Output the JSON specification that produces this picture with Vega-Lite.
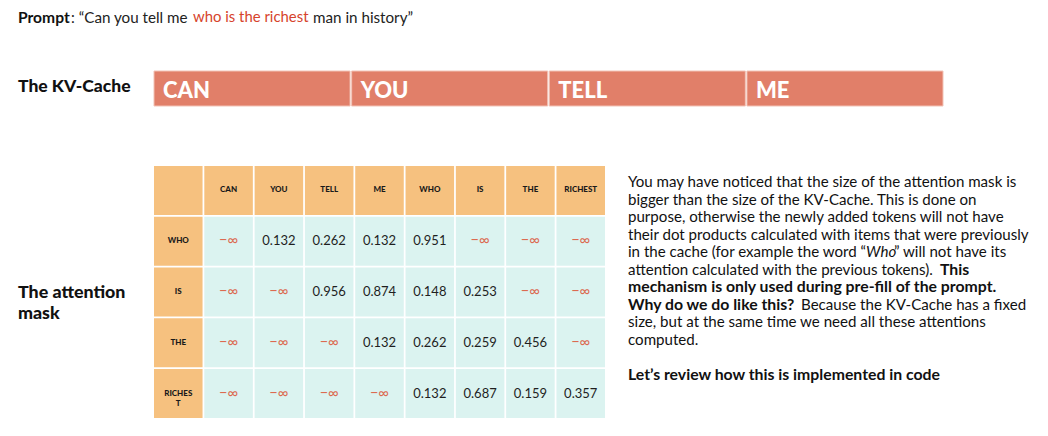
{
  "$schema": "https://vega.github.io/schema/vega-lite/v6.json",
  "width": 1048,
  "height": 436,
  "autosize": {"type": "fit", "contains": "padding"},
  "padding": 0,
  "background": "white",
  "config": {"view": {"stroke": null}, "font": "Lato"},
  "resolve": {"scale": {"x": "independent", "y": "independent", "color": "independent"}},
  "layer": [
    {
      "data": {"values": [{"token": "CAN"}, {"token": "YOU"}, {"token": "TELL"}, {"token": "ME"}]},
      "mark": {"type": "rect", "color": "#E17F69", "stroke": "#F2C3B6", "strokeWidth": 1},
      "encoding": {
        "x": {"field": "token", "type": "nominal", "sort": null, "axis": null,
              "scale": {"type": "band", "range": [154, 943], "paddingInner": 0.008, "paddingOuter": 0}},
        "y": {"datum": "kv", "type": "nominal", "axis": null,
              "scale": {"type": "band", "domain": ["kv"], "range": [71, 106], "paddingInner": 0, "paddingOuter": 0}}
      }
    },
    {
      "data": {"values": [{"token": "CAN"}, {"token": "YOU"}, {"token": "TELL"}, {"token": "ME"}]},
      "mark": {"type": "text", "align": "left", "baseline": "middle", "dx": 9, "dy": 2, "color": "white",
               "fontSize": 22, "fontWeight": 900, "font": "Lato"},
      "encoding": {
        "x": {"field": "token", "type": "nominal", "sort": null, "axis": null, "bandPosition": 0,
              "scale": {"type": "band", "range": [154, 943], "paddingInner": 0.008, "paddingOuter": 0}},
        "y": {"datum": "kv", "type": "nominal", "axis": null,
              "scale": {"type": "band", "domain": ["kv"], "range": [71, 106], "paddingInner": 0, "paddingOuter": 0}},
        "text": {"field": "token"}
      }
    },
    {
      "data": {"values": [{"text": "The KV-Cache"}]},
      "mark": {"type": "text", "align": "left", "baseline": "middle", "fontSize": 17.5, "fontWeight": 900, "font": "Lato", "color": "#111"},
      "encoding": {
        "x": {"datum": "left", "type": "nominal", "axis": null, "scale": {"type": "point", "domain": ["left", "right"], "range": [18, 628], "padding": 0}},
        "y": {"datum": "kv", "type": "nominal", "axis": null,
              "scale": {"type": "band", "domain": ["kv"], "range": [69, 104], "paddingInner": 0, "paddingOuter": 0}},
        "text": {"field": "text"}
      }
    },
    {
      "data": {"name": "mask"},
      "mark": {"type": "rect"},
      "encoding": {
        "x": {"field": "col", "type": "nominal", "sort": null, "axis": null,
              "scale": {"type": "band", "domain": ["hdr", "CAN", "YOU", "TELL", "ME", "WHO", "IS", "THE", "RICHEST"], "range": [154, 605], "paddingInner": 0.035, "paddingOuter": 0}},
        "y": {"field": "row", "type": "nominal", "sort": null, "axis": null,
              "scale": {"type": "band", "domain": ["hdr", "WHO", "IS", "THE", "RICHEST"], "range": [166, 418], "paddingInner": 0.035, "paddingOuter": 0}},
        "color": {"field": "kind", "type": "nominal", "legend": null,
                  "scale": {"domain": ["head", "body"], "range": ["#F6C17F", "#DBF3F0"]}}
      }
    },
    {
      "data": {"name": "mask"},
      "transform": [{"filter": "datum.kind === 'head'"}],
      "mark": {"type": "text", "align": "center", "baseline": "middle", "fontSize": 8, "fontWeight": 900,
               "font": "Lato", "color": "#1a1a1a", "lineBreak": "\n", "lineHeight": 10},
      "encoding": {
        "x": {"field": "col", "type": "nominal", "sort": null, "axis": null,
              "scale": {"type": "band", "domain": ["hdr", "CAN", "YOU", "TELL", "ME", "WHO", "IS", "THE", "RICHEST"], "range": [154, 605], "paddingInner": 0.035, "paddingOuter": 0}},
        "y": {"field": "row", "type": "nominal", "sort": null, "axis": null,
              "scale": {"type": "band", "domain": ["hdr", "WHO", "IS", "THE", "RICHEST"], "range": [166, 418], "paddingInner": 0.035, "paddingOuter": 0}},
        "text": {"field": "label"}
      }
    },
    {
      "data": {"name": "mask"},
      "transform": [{"filter": "datum.kind === 'body' && datum.value != null"}],
      "mark": {"type": "text", "align": "center", "baseline": "middle", "fontSize": 13, "font": "Lato", "color": "#1f1f1f"},
      "encoding": {
        "x": {"field": "col", "type": "nominal", "sort": null, "axis": null,
              "scale": {"type": "band", "domain": ["hdr", "CAN", "YOU", "TELL", "ME", "WHO", "IS", "THE", "RICHEST"], "range": [154, 605], "paddingInner": 0.035, "paddingOuter": 0}},
        "y": {"field": "row", "type": "nominal", "sort": null, "axis": null,
              "scale": {"type": "band", "domain": ["hdr", "WHO", "IS", "THE", "RICHEST"], "range": [166, 418], "paddingInner": 0.035, "paddingOuter": 0}},
        "text": {"field": "value", "type": "quantitative", "format": ".3f"}
      }
    },
    {
      "data": {"name": "mask"},
      "transform": [{"filter": "datum.kind === 'body' && datum.value == null"}],
      "mark": {"type": "text", "align": "center", "baseline": "middle", "fontSize": 14.5, "font": "Lato", "color": "#DC6A50"},
      "encoding": {
        "x": {"field": "col", "type": "nominal", "sort": null, "axis": null,
              "scale": {"type": "band", "domain": ["hdr", "CAN", "YOU", "TELL", "ME", "WHO", "IS", "THE", "RICHEST"], "range": [154, 605], "paddingInner": 0.035, "paddingOuter": 0}},
        "y": {"field": "row", "type": "nominal", "sort": null, "axis": null,
              "scale": {"type": "band", "domain": ["hdr", "WHO", "IS", "THE", "RICHEST"], "range": [166, 418], "paddingInner": 0.035, "paddingOuter": 0}},
        "text": {"value": "−∞"}
      }
    },
    {
      "data": {"values": [
        {"line": 1, "text": "The attention"},
        {"line": 2, "text": "mask"}
      ]},
      "mark": {"type": "text", "align": "left", "baseline": "middle", "fontSize": 17.8, "fontWeight": 900, "font": "Lato", "color": "#111"},
      "encoding": {
        "x": {"datum": "left", "type": "nominal", "axis": null, "scale": {"type": "point", "domain": ["left", "right"], "range": [18, 628], "padding": 0}},
        "y": {"field": "line", "type": "quantitative", "axis": null, "scale": {"domain": [1, 2], "range": [293, 314]}},
        "text": {"field": "text"}
      }
    },
    {
      "data": {"values": [{"part": "Prompt", "text": "Prompt"}]},
      "mark": {"type": "text", "align": "left", "baseline": "middle", "fontSize": 15.6, "fontWeight": "bold", "font": "Lato", "color": "#111"},
      "encoding": {
        "x": {"datum": "left", "type": "nominal", "axis": null, "scale": {"type": "point", "domain": ["left", "right"], "range": [18, 628], "padding": 0}},
        "y": {"datum": "prompt", "type": "nominal", "axis": null, "scale": {"type": "point", "domain": ["prompt"], "range": [18, 18]}},
        "text": {"field": "text"}
      }
    },
    {
      "data": {"values": [
        {"part": "a", "text": ": “Can you tell me"},
        {"part": "c", "text": "man in history”"}
      ]},
      "mark": {"type": "text", "align": "left", "baseline": "middle", "fontSize": 15.2, "font": "Lato", "color": "#222"},
      "encoding": {
        "x": {"field": "part", "type": "nominal", "axis": null, "scale": {"type": "point", "domain": ["a", "c"], "range": [71, 313], "padding": 0}},
        "y": {"datum": "prompt", "type": "nominal", "axis": null, "scale": {"type": "point", "domain": ["prompt"], "range": [18, 18]}},
        "text": {"field": "text"}
      }
    },
    {
      "data": {"values": [{"part": "b", "text": "who is the richest"}]},
      "mark": {"type": "text", "align": "left", "baseline": "middle", "fontSize": 14.9, "font": "Lato", "color": "#D6432C"},
      "encoding": {
        "x": {"field": "part", "type": "nominal", "axis": null, "scale": {"type": "point", "domain": ["b"], "range": [193, 193]}},
        "y": {"datum": "prompt", "type": "nominal", "axis": null, "scale": {"type": "point", "domain": ["prompt"], "range": [18, 18]}},
        "text": {"field": "text"}
      }
    },
    {
      "data": {"values": [
        {"line": 1, "text": "You may have noticed that the size of the attention mask is"},
        {"line": 2, "text": "bigger than the size of the KV-Cache. This is done on"},
        {"line": 3, "text": "purpose, otherwise the newly added tokens will not have"},
        {"line": 4, "text": "their dot products calculated with items that were previously"},
        {"line": 5, "text": "in the cache (for example the word “"},
        {"line": 6, "text": "attention calculated with the previous tokens)."},
        {"line": 9, "text": "size, but at the same time we need all these attentions"},
        {"line": 10, "text": "computed."}
      ]},
      "mark": {"type": "text", "align": "left", "baseline": "middle", "fontSize": 15.1, "font": "Lato", "color": "#111"},
      "encoding": {
        "x": {"datum": "right", "type": "nominal", "axis": null, "scale": {"type": "point", "domain": ["left", "right"], "range": [18, 628], "padding": 0}},
        "y": {"field": "line", "type": "quantitative", "axis": null, "scale": {"domain": [1, 10], "range": [182, 340]}},
        "text": {"field": "text"}
      }
    },
    {
      "data": {"values": [
        {"line": 7, "text": "mechanism is only used during pre-fill of the prompt."},
        {"line": 8, "text": "Why do we do like this?"},
        {"line": 12, "text": "Let’s review how this is implemented in code"}
      ]},
      "mark": {"type": "text", "align": "left", "baseline": "middle", "fontSize": 15.8, "fontWeight": "bold", "font": "Lato", "color": "#111"},
      "encoding": {
        "x": {"datum": "right", "type": "nominal", "axis": null, "scale": {"type": "point", "domain": ["left", "right"], "range": [18, 628], "padding": 0}},
        "y": {"field": "line", "type": "quantitative", "axis": null, "scale": {"domain": [1, 10], "range": [182, 340]}},
        "text": {"field": "text"}
      }
    },
    {
      "data": {"values": [
        {"line": 5, "part": "who", "text": "Who"}
      ]},
      "mark": {"type": "text", "align": "left", "baseline": "middle", "fontSize": 15.1, "fontStyle": "italic", "font": "Lato", "color": "#111"},
      "encoding": {
        "x": {"field": "part", "type": "nominal", "axis": null, "scale": {"type": "point", "domain": ["who"], "range": [866, 866]}},
        "y": {"field": "line", "type": "quantitative", "axis": null, "scale": {"domain": [1, 10], "range": [182, 340]}},
        "text": {"field": "text"}
      }
    },
    {
      "data": {"values": [
        {"line": 5, "part": "after", "text": "” will not have its"},
        {"line": 8, "part": "because", "text": "Because the KV-Cache has a fixed"}
      ]},
      "mark": {"type": "text", "align": "left", "baseline": "middle", "fontSize": 15.1, "font": "Lato", "color": "#111"},
      "encoding": {
        "x": {"field": "part", "type": "nominal", "axis": null, "scale": {"type": "point", "domain": ["because", "after"], "range": [801, 894], "padding": 0}},
        "y": {"field": "line", "type": "quantitative", "axis": null, "scale": {"domain": [1, 10], "range": [182, 340]}},
        "text": {"field": "text"}
      }
    },
    {
      "data": {"values": [
        {"line": 6, "part": "this", "text": "This"}
      ]},
      "mark": {"type": "text", "align": "left", "baseline": "middle", "fontSize": 15.8, "fontWeight": "bold", "font": "Lato", "color": "#111"},
      "encoding": {
        "x": {"field": "part", "type": "nominal", "axis": null, "scale": {"type": "point", "domain": ["this"], "range": [940, 940]}},
        "y": {"field": "line", "type": "quantitative", "axis": null, "scale": {"domain": [1, 10], "range": [182, 340]}},
        "text": {"field": "text"}
      }
    }
  ],
  "datasets": {
    "mask": [
      {"row": "hdr", "col": "hdr", "kind": "head", "label": ""},
      {"row": "hdr", "col": "CAN", "kind": "head", "label": "CAN"},
      {"row": "hdr", "col": "YOU", "kind": "head", "label": "YOU"},
      {"row": "hdr", "col": "TELL", "kind": "head", "label": "TELL"},
      {"row": "hdr", "col": "ME", "kind": "head", "label": "ME"},
      {"row": "hdr", "col": "WHO", "kind": "head", "label": "WHO"},
      {"row": "hdr", "col": "IS", "kind": "head", "label": "IS"},
      {"row": "hdr", "col": "THE", "kind": "head", "label": "THE"},
      {"row": "hdr", "col": "RICHEST", "kind": "head", "label": "RICHEST"},
      {"row": "WHO", "col": "hdr", "kind": "head", "label": "WHO"},
      {"row": "WHO", "col": "CAN", "kind": "body", "value": null},
      {"row": "WHO", "col": "YOU", "kind": "body", "value": 0.132},
      {"row": "WHO", "col": "TELL", "kind": "body", "value": 0.262},
      {"row": "WHO", "col": "ME", "kind": "body", "value": 0.132},
      {"row": "WHO", "col": "WHO", "kind": "body", "value": 0.951},
      {"row": "WHO", "col": "IS", "kind": "body", "value": null},
      {"row": "WHO", "col": "THE", "kind": "body", "value": null},
      {"row": "WHO", "col": "RICHEST", "kind": "body", "value": null},
      {"row": "IS", "col": "hdr", "kind": "head", "label": "IS"},
      {"row": "IS", "col": "CAN", "kind": "body", "value": null},
      {"row": "IS", "col": "YOU", "kind": "body", "value": null},
      {"row": "IS", "col": "TELL", "kind": "body", "value": 0.956},
      {"row": "IS", "col": "ME", "kind": "body", "value": 0.874},
      {"row": "IS", "col": "WHO", "kind": "body", "value": 0.148},
      {"row": "IS", "col": "IS", "kind": "body", "value": 0.253},
      {"row": "IS", "col": "THE", "kind": "body", "value": null},
      {"row": "IS", "col": "RICHEST", "kind": "body", "value": null},
      {"row": "THE", "col": "hdr", "kind": "head", "label": "THE"},
      {"row": "THE", "col": "CAN", "kind": "body", "value": null},
      {"row": "THE", "col": "YOU", "kind": "body", "value": null},
      {"row": "THE", "col": "TELL", "kind": "body", "value": null},
      {"row": "THE", "col": "ME", "kind": "body", "value": 0.132},
      {"row": "THE", "col": "WHO", "kind": "body", "value": 0.262},
      {"row": "THE", "col": "IS", "kind": "body", "value": 0.259},
      {"row": "THE", "col": "THE", "kind": "body", "value": 0.456},
      {"row": "THE", "col": "RICHEST", "kind": "body", "value": null},
      {"row": "RICHEST", "col": "hdr", "kind": "head", "label": "RICHES\nT"},
      {"row": "RICHEST", "col": "CAN", "kind": "body", "value": null},
      {"row": "RICHEST", "col": "YOU", "kind": "body", "value": null},
      {"row": "RICHEST", "col": "TELL", "kind": "body", "value": null},
      {"row": "RICHEST", "col": "ME", "kind": "body", "value": null},
      {"row": "RICHEST", "col": "WHO", "kind": "body", "value": 0.132},
      {"row": "RICHEST", "col": "IS", "kind": "body", "value": 0.687},
      {"row": "RICHEST", "col": "THE", "kind": "body", "value": 0.159},
      {"row": "RICHEST", "col": "RICHEST", "kind": "body", "value": 0.357}
    ]
  }
}
